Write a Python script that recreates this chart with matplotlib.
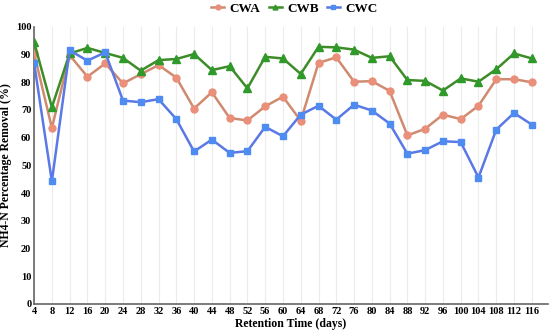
import matplotlib.pyplot as plt
import numpy as np

days = list(range(4, 117, 4))
cwa = [90.5, 63.5, 89.8, 82.0, 86.8, 79.6, 82.9, 86.2, 81.7, 70.5,
       76.4, 67.1, 66.2, 71.3, 74.8, 66.1, 87.0, 89.0, 80.2, 80.4,
       76.9, 60.8, 63.2, 68.3, 66.7, 71.5, 81.1, 81.1, 80.0]
cwb = [94.5, 71.0, 90.4, 92.4, 90.6, 88.8, 84.2, 88.0, 88.4, 90.2,
       84.4, 85.8, 77.8, 89.2, 88.6, 83.0, 92.8, 92.6, 91.8, 88.8,
       89.4, 80.8, 80.5, 77.0, 81.4, 80.2, 84.7, 90.4, 88.6]
cwc = [87.0, 44.2, 91.5, 87.8, 90.8, 73.4, 72.8, 73.9, 66.7, 55.0,
       59.3, 54.5, 55.1, 63.9, 60.5, 68.3, 71.5, 66.5, 71.9, 69.8,
       65.1, 54.2, 55.5, 58.7, 58.4, 45.6, 62.9, 68.9, 64.7]

plt.rcParams['font.family'] = ['Liberation Serif', 'DejaVu Serif']
plt.rcParams['font.weight'] = 'bold'

fig = plt.figure(figsize=(5.5, 3.32), dpi=100)
ax = fig.add_axes([0.062, 0.085, 0.934, 0.834])

ax.plot(days, cwa, color='#cf8a6f', lw=1.8, marker='o', ms=5,
        mfc='#e98f7a', mec='#e98f7a', label='CWA', zorder=3)
ax.plot(days, cwb, color='#3d8c28', lw=1.8, marker='^', ms=5.5,
        mfc='#2f9a2a', mec='#2f9a2a', label='CWB', zorder=4)
ax.plot(days, cwc, color='#5a78e6', lw=1.8, marker='s', ms=5,
        mfc='#4f8cf2', mec='#4f8cf2', label='CWC', zorder=5)

ax.set_xlim(4, 119.6)
ax.set_ylim(0, 100)
ax.set_xticks(days)
ax.set_yticks(np.arange(0, 101, 10))
ax.tick_params(axis='both', length=0, labelsize=7.5, pad=2)
for lab in ax.get_xticklabels() + ax.get_yticklabels():
    lab.set_fontweight('bold')

ax.grid(axis='x', color='#ececec', lw=0.8)
ax.set_axisbelow(True)
for s in ['top', 'right']:
    ax.spines[s].set_visible(False)
for s in ['left', 'bottom']:
    ax.spines[s].set_color('#666666')
    ax.spines[s].set_linewidth(1.2)

ax.set_xlabel('Retention Time (days)', fontsize=8.5, fontweight='bold', labelpad=2)
ax.set_ylabel('NH4-N Percentage Removal (%)', fontsize=8.5, fontweight='bold', labelpad=3)

leg = fig.legend(loc='center', bbox_to_anchor=(0.535, 0.973), ncol=3, frameon=False,
                 handlelength=1.0, columnspacing=0.6, handletextpad=0.4,
                 prop={'weight': 'bold', 'size': 9.5})
for h in leg.legend_handles:
    h.set_markersize(3.5)

fig.savefig('out.png', dpi=100)
